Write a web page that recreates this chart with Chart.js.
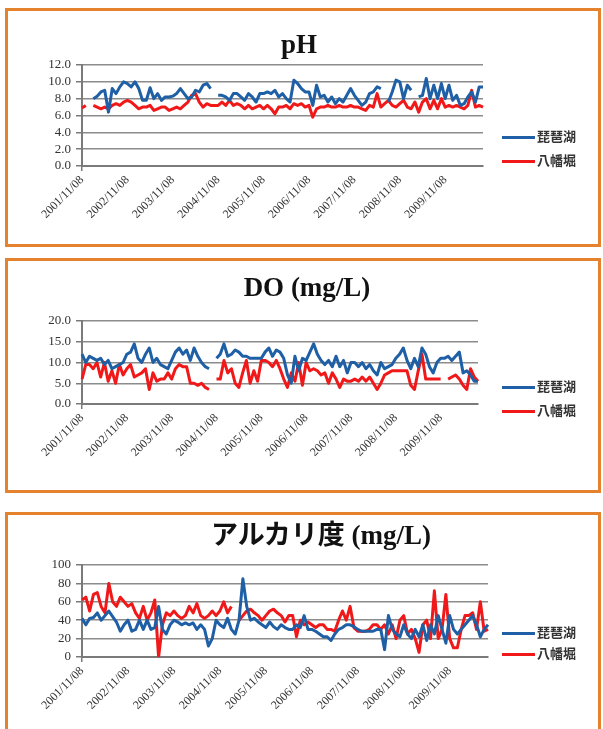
<!DOCTYPE html>
<html><head><meta charset="utf-8">
<script src="https://cdn.jsdelivr.net/npm/chart.js@4.4.1/dist/chart.umd.min.js"></script>
<style>
html,body{margin:0;padding:0;width:603px;height:729px;overflow:hidden;background:#fff;}
.panel{position:absolute;left:5px;width:590px;border:3px solid #E5822E;background:#fff;}
.panel canvas{position:absolute;left:0;top:0;}
.ttl{position:absolute;left:0;width:590px;text-align:center;font-family:"Liberation Serif","Noto Sans CJK JP",serif;font-weight:bold;font-size:27px;line-height:30px;color:#111;white-space:nowrap;}
.leg{position:absolute;left:502px;font-family:"Noto Sans CJK JP",sans-serif;font-size:13px;line-height:16px;color:#333;font-weight:bold;white-space:nowrap;}
.leg i{display:inline-block;width:33px;height:3px;vertical-align:middle;margin-right:2px;}
</style></head>
<body>
<div class="panel" style="top:8px;height:233px;">
  <canvas id="c1" width="590" height="233"></canvas>
  <div class="ttl" style="top:18px;left:-4px;">pH</div>
</div>
<div class="panel" style="top:258px;height:229px;">
  <canvas id="c2" width="590" height="229"></canvas>
  <div class="ttl" style="top:11px;left:4px;">DO (mg/L)</div>
</div>
<div class="panel" style="top:512px;height:240px;">
  <canvas id="c3" width="590" height="214"></canvas>
  <div class="ttl" style="top:5px;left:18px;">アルカリ度 (mg/L)</div>
</div>
<div class="leg" style="top:128px;"><i style="background:#1E5FA5"></i>琵琶湖</div>
<div class="leg" style="top:152px;"><i style="background:#F01818"></i>八幡堀</div>
<div class="leg" style="top:378px;"><i style="background:#1E5FA5"></i>琵琶湖</div>
<div class="leg" style="top:402px;"><i style="background:#F01818"></i>八幡堀</div>
<div class="leg" style="top:624px;"><i style="background:#1E5FA5"></i>琵琶湖</div>
<div class="leg" style="top:645px;"><i style="background:#F01818"></i>八幡堀</div>
<script>
const dateLabels = [
"2001/11/08","2001/12/08",
"2002/01/08","2002/02/08","2002/03/08","2002/04/08","2002/05/08","2002/06/08","2002/07/08","2002/08/08","2002/09/08","2002/10/08","2002/11/08","2002/12/08",
"2003/01/08","2003/02/08","2003/03/08","2003/04/08","2003/05/08","2003/06/08","2003/07/08","2003/08/08","2003/09/08","2003/10/08","2003/11/08","2003/12/08",
"2004/01/08","2004/02/08","2004/03/08","2004/04/08","2004/05/08","2004/06/08","2004/07/08","2004/08/08","2004/09/08","2004/10/08","2004/11/08","2004/12/08",
"2005/01/08","2005/02/08","2005/03/08","2005/04/08","2005/05/08","2005/06/08","2005/07/08","2005/08/08","2005/09/08","2005/10/08","2005/11/08","2005/12/08",
"2006/01/08","2006/02/08","2006/03/08","2006/04/08","2006/05/08","2006/06/08","2006/07/08","2006/08/08","2006/09/08","2006/10/08","2006/11/08","2006/12/08",
"2007/01/08","2007/02/08","2007/03/08","2007/04/08","2007/05/08","2007/06/08","2007/07/08","2007/08/08","2007/09/08","2007/10/08","2007/11/08","2007/12/08",
"2008/01/08","2008/02/08","2008/03/08","2008/04/08","2008/05/08","2008/06/08","2008/07/08","2008/08/08","2008/09/08","2008/10/08","2008/11/08","2008/12/08",
"2009/01/08","2009/02/08","2009/03/08","2009/04/08","2009/05/08","2009/06/08","2009/07/08","2009/08/08","2009/09/08","2009/10/08","2009/11/08","2009/12/08",
"2010/01/08","2010/02/08","2010/03/08","2010/04/08","2010/05/08","2010/06/08","2010/07/08","2010/08/08","2010/09/08"
];
const seriesNames = ["琵琶湖","八幡堀"];

const phBiwa = [
null,null,null,8.0,8.3,8.8,9.0,6.4,9.2,8.6,9.4,10.0,
9.8,9.4,10.0,9.2,7.8,7.8,9.3,8.0,8.6,7.8,8.2,8.2,
8.3,8.6,9.2,8.6,8.0,8.2,9.0,8.8,9.6,9.8,9.2,null,
8.4,8.4,8.2,7.8,8.6,8.6,8.2,7.8,8.6,8.2,7.6,8.6,
8.6,8.8,8.6,9.0,8.2,8.6,8.0,7.6,10.2,9.8,9.2,8.8,
8.8,7.2,9.6,8.2,8.4,7.6,8.2,7.4,8.0,7.6,8.4,9.2,
8.4,7.8,7.2,7.6,8.6,8.8,9.4,9.2,null,7.6,8.8,10.2,
10.0,8.0,9.6,9.0,null,8.2,8.4,10.4,8.0,9.6,8.0,9.8,
8.0,9.6,7.8,8.4,7.2,7.4,8.2,8.8,7.6,9.4,9.4
];
const phHachiman = [
6.9,7.2,null,7.2,7.0,6.8,7.0,6.8,7.2,7.4,7.2,7.6,
7.8,7.6,7.2,6.8,7.0,7.0,7.2,6.6,6.8,7.0,7.0,6.6,
6.8,7.0,6.8,7.2,7.6,8.4,8.6,7.6,7.0,7.4,7.2,7.2,
7.2,7.6,7.2,7.8,7.2,7.4,7.2,6.8,7.2,6.8,7.0,7.2,
6.8,7.2,6.8,6.2,7.0,7.0,7.2,6.8,7.4,7.2,7.4,7.0,
7.2,5.8,6.8,7.0,7.0,7.2,7.0,7.0,7.2,7.0,7.0,7.2,
7.0,7.0,6.8,6.6,7.2,7.0,8.6,7.0,7.4,7.8,7.2,7.0,
7.4,7.8,7.0,6.8,7.6,6.4,7.6,8.0,6.8,7.8,6.8,8.0,
7.0,7.2,7.0,7.2,7.0,6.8,7.2,9.0,7.0,7.2,7.0
];
const doBiwa = [
12.0,10.0,11.5,11.0,10.5,11.0,9.5,10.5,8.5,9.0,9.5,10.0,
12.0,12.5,14.5,11.0,10.0,12.0,13.5,10.0,11.0,9.5,9.0,8.5,
10.5,12.5,13.5,12.0,13.0,10.5,13.5,11.5,10.0,9.0,8.5,null,
11.0,12.0,14.5,11.5,12.0,13.0,12.5,11.5,11.5,11.0,11.0,11.0,
11.0,12.5,13.5,11.5,13.0,12.5,11.0,7.0,5.0,11.5,8.0,11.0,
10.5,12.5,14.5,12.0,10.5,9.5,10.5,9.0,11.5,9.0,10.5,7.5,
10.0,10.0,9.0,10.0,8.5,9.5,8.0,7.0,10.0,8.5,9.0,9.5,
11.0,12.0,13.5,10.5,8.5,11.0,9.0,13.5,12.0,9.0,7.5,10.0,
11.0,11.0,11.5,10.5,11.5,12.5,7.5,8.0,7.0,5.5,5.5
];
const doHachiman = [
6.0,9.5,9.5,8.5,10.0,6.5,10.0,5.5,8.0,5.0,9.5,7.0,
8.5,9.5,6.5,7.0,7.5,8.5,3.5,7.5,5.5,6.0,6.0,7.5,
6.0,8.5,9.5,9.0,9.0,5.0,5.0,4.5,5.0,4.0,3.5,null,
6.0,6.0,10.5,7.5,8.5,5.0,4.0,7.5,10.5,5.0,8.0,5.5,
10.5,10.5,10.0,9.0,10.5,8.5,6.0,4.0,7.5,5.5,10.0,4.5,
10.0,8.0,8.5,8.0,7.0,7.5,5.0,7.5,6.0,4.0,6.0,5.5,
5.5,6.0,5.5,6.5,5.5,6.5,5.0,3.5,5.0,7.0,7.5,8.0,
8.0,8.0,8.0,8.0,4.5,3.5,8.0,12.0,6.0,6.0,6.0,6.0,
6.0,null,6.0,6.5,7.0,6.0,4.5,3.5,8.5,6.5,5.5
];
const alkBiwa = [
42,35,42,43,48,40,45,50,44,38,28,35,
40,28,30,40,30,40,30,32,55,30,25,35,
40,38,35,37,35,37,30,35,30,12,20,40,
35,32,42,30,25,40,85,55,40,42,38,35,
32,38,33,30,35,32,30,30,35,32,45,30,
30,28,25,22,22,18,25,30,32,35,35,33,
30,28,28,28,28,30,30,8,45,30,25,22,
35,25,20,30,22,35,18,35,25,45,30,15,
45,30,25,30,35,40,45,35,22,30,35
];
const alkHachiman = [
62,65,50,68,70,55,48,80,60,55,65,60,
55,58,48,42,55,40,48,62,0,35,48,45,
50,45,42,45,55,48,58,45,42,45,50,45,
50,60,48,55,null,40,45,50,52,48,45,40,
45,50,52,48,45,38,45,45,22,40,35,38,
35,32,35,35,30,30,28,40,50,40,55,32,
28,28,28,30,35,35,30,35,25,35,20,40,
45,25,30,20,5,35,40,20,72,20,30,68,
20,10,10,30,45,45,48,30,60,28,30
];
const phTicks = {min:0, max:12, step:2, digits:1};
const doTicks = {min:0, max:20, step:5, digits:1};
const alkTicks = {min:0, max:100, step:20, digits:0};

const BLUE = '#1E5FA5', RED = '#F01818', AX = '#7a7a7a', GRID = '#8c8c8c';
const SERIF = '"Liberation Serif", "DejaVu Serif", serif';

function makeChart(id, a, b, t, lay) {
  new Chart(document.getElementById(id), {
    type: 'line',
    data: {
      labels: dateLabels,
      datasets: [
        {label: seriesNames[0], data: a, borderColor: BLUE, backgroundColor: BLUE, borderWidth: 3, pointRadius: 0, tension: 0, spanGaps: false, borderJoinStyle: 'round'},
        {label: seriesNames[1], data: b, borderColor: RED, backgroundColor: RED, borderWidth: 3, pointRadius: 0, tension: 0, spanGaps: false, borderJoinStyle: 'round'}
      ]
    },
    options: {
      responsive: false, animation: false, devicePixelRatio: 1,
      layout: {padding: {left: 0, top: lay.top, right: lay.right, bottom: 0}},
      plugins: {legend: {display: false}, title: {display: false}, tooltip: {enabled: false}},
      scales: {
        x: {
          type: 'category', offset: false,
          grid: {drawOnChartArea: false, drawTicks: true, tickLength: 5, lineWidth: 1.5,
                 tickColor: c => (c.index % 12 === 0 ? AX : 'rgba(0,0,0,0)')},
          border: {color: AX, width: 2},
          ticks: {autoSkip: false, maxRotation: 45, minRotation: 45, padding: 2,
                  font: {family: SERIF, size: 12}, color: '#333',
                  callback: function(v, i) { return i % 12 === 0 ? dateLabels[i] : null; }},
          afterFit: s => { s.height = lay.xh; }
        },
        y: {
          min: t.min, max: t.max,
          ticks: {autoSkip: false, stepSize: t.step, padding: 5, font: {family: SERIF, size: 13}, color: '#333',
                  callback: v => Number(v).toFixed(t.digits)},
          grid: {color: GRID, lineWidth: 1.5, tickLength: 6, tickColor: AX},
          border: {color: AX, width: 2},
          afterFit: s => { s.width = 74; }
        }
      }
    }
  });
}
makeChart('c1', phBiwa, phHachiman, phTicks, {top: 54, right: 115, xh: 78});
makeChart('c2', doBiwa, doHachiman, doTicks, {top: 60, right: 120, xh: 86});
makeChart('c3', alkBiwa, alkHachiman, alkTicks, {top: 50, right: 110, xh: 72});
</script>
</body></html>
